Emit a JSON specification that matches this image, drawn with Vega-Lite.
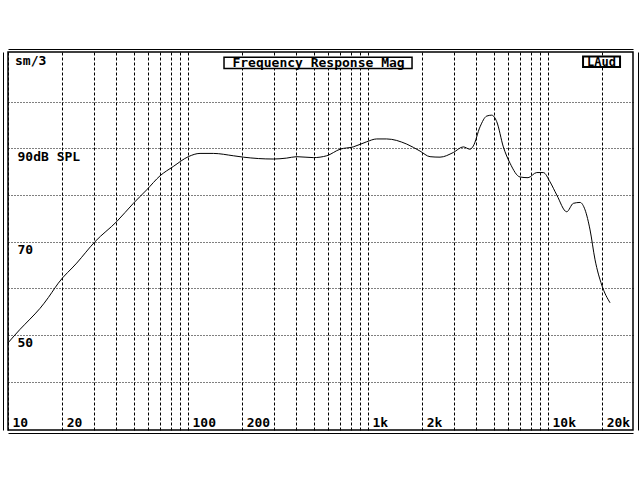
{
  "$schema": "https://vega.github.io/schema/vega-lite/v6.json",
  "width": 625,
  "height": 378,
  "autosize": {"type": "none"},
  "padding": {"left": 8, "top": 52, "right": 7, "bottom": 50},
  "background": "white",
  "config": {
    "view": {"stroke": "black", "strokeWidth": 1.5},
    "font": "DejaVu Sans Mono",
    "axis": {"labelFont": "DejaVu Sans Mono", "labelFontWeight": "bold", "labelFontSize": 13, "labelColor": "black"}
  },
  "datasets": {
    "curve": [
      {"f": 10, "db": 48.3}, {"f": 11.66, "db": 51.2}, {"f": 13.25, "db": 53.4}, {"f": 15.06, "db": 55.7},
      {"f": 16.74, "db": 58.0}, {"f": 18.24, "db": 60.1}, {"f": 19.03, "db": 61.1}, {"f": 24.08, "db": 65.4},
      {"f": 30.44, "db": 70.0}, {"f": 40.18, "db": 74.3}, {"f": 49.69, "db": 78.2}, {"f": 58.96, "db": 81.1},
      {"f": 69.9, "db": 84.1}, {"f": 82.85, "db": 86.1}, {"f": 100.4, "db": 88.2}, {"f": 116.6, "db": 88.9},
      {"f": 138.2, "db": 88.9}, {"f": 178.5, "db": 88.4}, {"f": 202.9, "db": 88.1}, {"f": 297.8, "db": 87.7},
      {"f": 353.4, "db": 87.9}, {"f": 401.8, "db": 88.2}, {"f": 496.9, "db": 88.0}, {"f": 589.6, "db": 88.4},
      {"f": 698.9, "db": 89.8}, {"f": 828.5, "db": 90.3}, {"f": 983.3, "db": 91.4}, {"f": 1117, "db": 92.0},
      {"f": 1270, "db": 92.0}, {"f": 1641, "db": 90.9}, {"f": 1945, "db": 89.4}, {"f": 2211, "db": 88.2},
      {"f": 2512, "db": 88.1}, {"f": 2978, "db": 89.1}, {"f": 3383, "db": 90.3}, {"f": 3687, "db": 89.8},
      {"f": 3846, "db": 90.5}, {"f": 4190, "db": 94.6}, {"f": 4564, "db": 96.9}, {"f": 4867, "db": 97.1},
      {"f": 5188, "db": 95.7}, {"f": 5646, "db": 90.3}, {"f": 6151, "db": 86.8}, {"f": 6989, "db": 83.85},
      {"f": 7743, "db": 83.7}, {"f": 8655, "db": 84.8}, {"f": 9416, "db": 84.8}, {"f": 10260, "db": 82.8},
      {"f": 11180, "db": 80.0}, {"f": 12700, "db": 76.4}, {"f": 13820, "db": 78.2}, {"f": 15060, "db": 78.4},
      {"f": 16060, "db": 76.8}, {"f": 17120, "db": 72.5}, {"f": 18250, "db": 66.1}, {"f": 19880, "db": 60.7},
      {"f": 22100, "db": 56.9}
    ]
  },
  "layer": [
    {
      "data": {"name": "curve"},
      "mark": {"type": "line", "color": "black", "strokeWidth": 1, "interpolate": "monotone"},
      "encoding": {
        "x": {
          "field": "f", "type": "quantitative",
          "scale": {"type": "log", "domain": [10, 29650], "nice": false, "zero": false},
          "axis": {
            "orient": "bottom", "title": null, "domain": false, "ticks": false, "tickSize": 0,
            "values": [10, 20, 30, 40, 50, 60, 70, 80, 90, 100, 200, 300, 400, 500, 600, 700, 800, 900, 1000, 2000, 3000, 4000, 5000, 6000, 7000, 8000, 9000, 10000, 20000],
            "labelExpr": "indexof([10,20,100,200],datum.value)>=0 ? ''+datum.value : (indexof([1000,2000,10000,20000],datum.value)>=0 ? (datum.value/1000)+'k' : '')",
            "labelAlign": "left", "labelBaseline": "alphabetic", "labelPadding": -4, "labelOffset": 4,
            "labelOverlap": false, "labelFlush": false, "labelBound": false,
            "grid": true, "gridColor": "black", "gridDash": [3, 2], "gridWidth": 1, "gridOpacity": 1
          }
        },
        "y": {
          "field": "db", "type": "quantitative",
          "scale": {"domain": [29.64, 110.63], "nice": false, "zero": false},
          "axis": {
            "orient": "left", "title": null, "domain": false, "ticks": false, "tickSize": 0,
            "values": [40, 50, 60, 70, 80, 90, 100],
            "labelExpr": "datum.value==90 ? '90dB SPL' : (datum.value==70 ? '70' : (datum.value==50 ? '50' : ''))",
            "labelAlign": "left", "labelBaseline": "top", "labelPadding": -9, "labelOffset": 2,
            "labelOverlap": false, "labelFlush": false, "labelBound": false,
            "grid": true, "gridColor": "black", "gridDash": [1, 2], "gridWidth": 1, "gridOpacity": 1
          }
        }
      }
    },
    {
      "data": {"values": [{"box": "title"}]},
      "mark": {"type": "rect", "fill": "white", "stroke": "black", "strokeWidth": 1.5},
      "encoding": {
        "x": {"datum": 158.5, "type": "quantitative", "axis": {"orient": "top", "offset": 3, "title": null, "labels": false, "ticks": false, "grid": false, "domain": true, "domainColor": "black", "domainWidth": 1, "values": []}},
        "x2": {"datum": 1756},
        "y": {"datum": 109.5, "type": "quantitative", "axis": {"orient": "right", "offset": 5, "title": null, "labels": false, "ticks": false, "grid": false, "domain": true, "domainColor": "black", "domainWidth": 1, "values": []}},
        "y2": {"datum": 107.1}
      }
    },
    {
      "data": {"values": [{"box": "laud"}]},
      "mark": {"type": "rect", "fill": "white", "stroke": "black", "strokeWidth": 2},
      "encoding": {
        "x": {"datum": 15650, "type": "quantitative", "axis": null},
        "x2": {"datum": 25120},
        "y": {"datum": 109.67, "type": "quantitative", "axis": null},
        "y2": {"datum": 107.4}
      }
    },
    {
      "data": {"values": [{"label": "sm/3"}]},
      "mark": {"type": "text", "align": "left", "baseline": "middle", "font": "DejaVu Sans Mono", "fontWeight": "bold", "fontSize": 13, "color": "black"},
      "encoding": {
        "text": {"field": "label"},
        "x": {"datum": 10.94, "type": "quantitative", "axis": {"orient": "bottom", "offset": 3, "title": null, "labels": false, "ticks": false, "grid": false, "domain": true, "domainColor": "black", "domainWidth": 1, "values": []}},
        "y": {"datum": 108.6, "type": "quantitative", "axis": {"orient": "left", "offset": 5, "title": null, "labels": false, "ticks": false, "grid": false, "domain": true, "domainColor": "black", "domainWidth": 1, "values": []}}
      }
    },
    {
      "data": {"values": [{"label": "Frequency Response Mag"}]},
      "mark": {"type": "text", "align": "center", "baseline": "middle", "font": "DejaVu Sans Mono", "fontWeight": "bold", "fontSize": 13, "color": "black"},
      "encoding": {
        "text": {"field": "label"},
        "x": {"datum": 530.9, "type": "quantitative", "axis": null},
        "y": {"datum": 108.35, "type": "quantitative", "axis": null}
      }
    },
    {
      "data": {"values": [{"label": "LAud"}]},
      "mark": {"type": "text", "align": "center", "baseline": "middle", "font": "DejaVu Sans Mono", "fontWeight": "bold", "fontSize": 12, "color": "black"},
      "encoding": {
        "text": {"field": "label"},
        "x": {"datum": 19830, "type": "quantitative", "axis": null},
        "y": {"datum": 108.55, "type": "quantitative", "axis": null}
      }
    }
  ],
  "resolve": {"axis": {"x": "independent", "y": "independent"}}
}
